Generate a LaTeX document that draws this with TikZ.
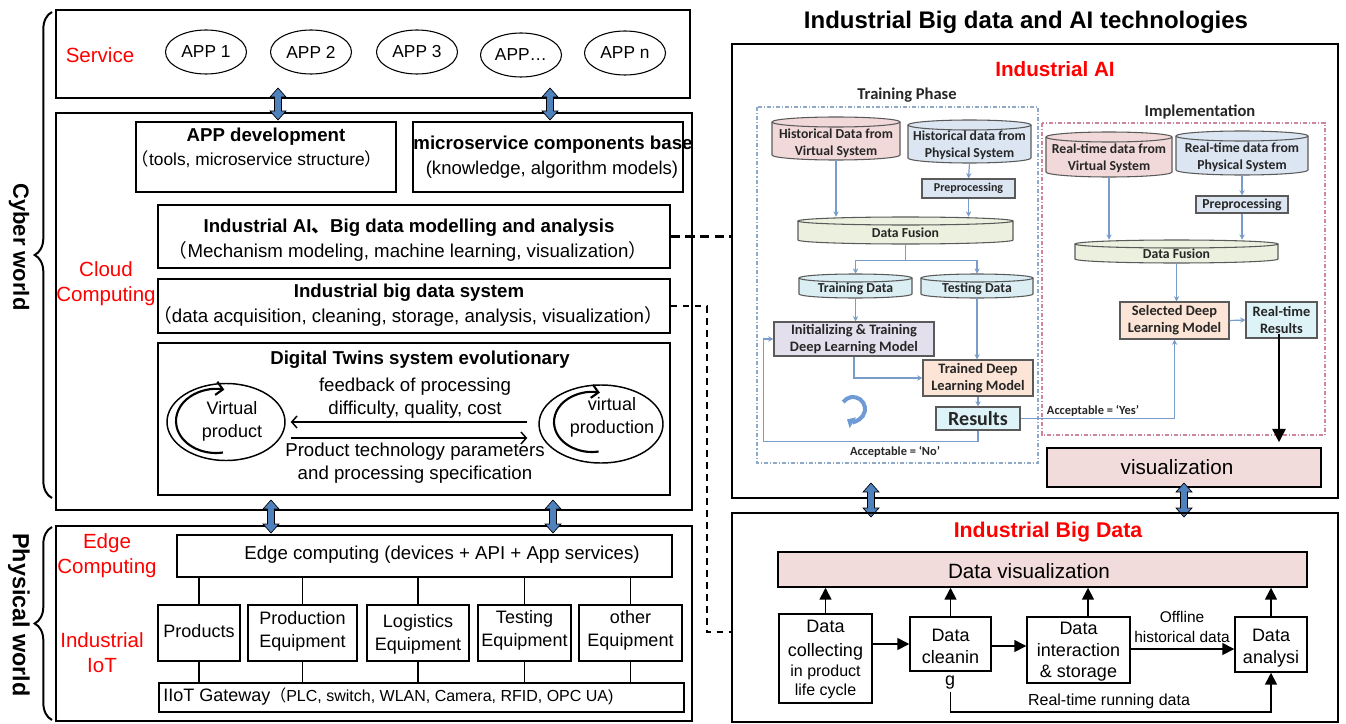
\documentclass[tikz,border=0pt]{standalone}
\usepackage{fontspec}
\setmainfont{Liberation Sans}
\newfontfamily\cjk{Noto Sans CJK SC}
\newfontfamily\carlito{Carlito}
\usetikzlibrary{arrows.meta,decorations.pathreplacing,fit,calc,shapes.geometric}
\newcommand\fs[2]{\fontsize{#1}{#2}\selectfont}
\definecolor{fatblue}{HTML}{4F81BD}
\definecolor{lnblue}{HTML}{7A9CCB}
\definecolor{cpink}{HTML}{F2D9D9}
\definecolor{cblue}{HTML}{DCE6F2}
\definecolor{cgreen}{HTML}{EBF1DE}
\definecolor{ccyan}{HTML}{DAEEF3}
\definecolor{clav}{HTML}{E4DFEC}
\definecolor{cpeach}{HTML}{FCE4D6}
\definecolor{cres}{HTML}{DDF3F8}
\definecolor{vispink}{HTML}{F2DCDB}
\definecolor{trainb}{HTML}{8FA9C9}
\definecolor{implr}{HTML}{D0859B}
\definecolor{edgegray}{HTML}{5A5A5A}
\definecolor{iconblue}{HTML}{6E9BD6}
\newcommand\fatarrow[3]{%
 \filldraw[fill=fatblue, draw=black, line width=0.5pt] (#1,#2) -- (#1+8,#2+9) -- (#1+3.5,#2+9) -- (#1+3.5,#3-9) -- (#1+8,#3-9) -- (#1,#3) -- (#1-8,#3-9) -- (#1-3.5,#3-9) -- (#1-3.5,#2+9) -- (#1-8,#2+9) -- cycle;}
\newcommand\drum[7]{%
 \fill[#7] (#2,#3) -- (#2,#5) .. controls (#2,#5+0.552*#6) and ({(#2+#4)/2-0.552*(#4-#2)/2},#5+#6) .. ({(#2+#4)/2},#5+#6) .. controls ({(#2+#4)/2+0.552*(#4-#2)/2},#5+#6) and (#4,#5+0.552*#6) .. (#4,#5) -- (#4,#3) -- cycle;
 \draw[edgegray, line width=0.8pt] (#2,#3) -- (#2,#5) .. controls (#2,#5+0.552*#6) and ({(#2+#4)/2-0.552*(#4-#2)/2},#5+#6) .. ({(#2+#4)/2},#5+#6) .. controls ({(#2+#4)/2+0.552*(#4-#2)/2},#5+#6) and (#4,#5+0.552*#6) .. (#4,#5) -- (#4,#3);
 \filldraw[fill=#7, draw=edgegray, line width=0.8pt] ({(#2+#4)/2},#3) ellipse [x radius={(#4-#2)/2}, y radius=#6];
 \node[fit={(#2,#3-#6) (#4,#5+#6)}, inner sep=0pt] (#1) {};}
\begin{document}
\begin{tikzpicture}[x=0.75pt,y=-0.75pt,
 box/.style={draw, line width=1.4pt, inner sep=0pt},
 ibox/.style={draw, line width=1.1pt, inner sep=0pt},
 redlbl/.style={text=red, inner sep=0pt, align=center, font=\fs{15.4}{18.75}},
 tt/.style={inner sep=0pt, align=center},
 ttl/.style={inner sep=0pt, align=center, font=\bfseries\fs{14}{17}},
 appell/.style={draw, ellipse, line width=0.8pt, minimum width=60.75pt, minimum height=33pt, inner sep=0pt, font=\fs{13}{15}},
 ai/.style={inner sep=0pt, align=center, font=\carlito\bfseries\fs{10.3}{12.75}, text=black!85},
 aibox/.style={draw=edgegray, line width=0.8pt, inner sep=0pt},
 bluarr/.style={draw=lnblue, line width=0.9pt, -{Stealth[length=4pt,width=4pt]}},
 bluln/.style={draw=lnblue, line width=0.9pt},
 blkarr/.style={line width=1.2pt, -{Triangle[length=9pt,width=9pt]}},
 oarr/.style={line width=1.1pt, -{Straight Barb[length=4pt,width=9pt]}},
 dev/.style={ibox},
 devt/.style={tt, font=\fs{13.5}{17.25}}
]
\useasboundingbox (0,0) rectangle (1346,724);

% ---------------- left: braces
\draw[line width=1.5pt, decorate, decoration={brace, amplitude=13pt}] (52,498) -- (52,12);
\draw[line width=1.5pt, decorate, decoration={brace, amplitude=13pt}] (52,720) -- (52,527);
\node[rotate=-90, inner sep=0pt, font=\bfseries\fs{16.5}{20}] (cyber) at (19,247) {Cyber world};
\node[rotate=-90, inner sep=0pt, font=\bfseries\fs{17.5}{20}] (phys) at (19,615) {Physical world};

% ---------------- service
\node[box, fit={(56,10) (690,98)}] (service) {};
\node[redlbl] (svc) at (100,55) {Service};
\node[appell] (app1) at (206,52) {APP 1};
\node[appell] (app2) at (311,52) {APP 2};
\node[appell] (app3) at (417,52) {APP 3};
\node[appell] (app4) at (521,55) {APP…};
\node[appell] (appn) at (625,53) {APP n};

% ---------------- cloud
\node[box, fit={(56,113) (692,510)}] (cloud) {};
\node[redlbl] (cc) at (106,284) {Cloud\\Computing};
\node[ibox, fit={(136,122) (396,192)}] (appdev) {};
\node[ttl] at (266,137) {APP development};
\node[tt, font=\fs{13}{15}] at (257,159) {{\cjk（}tools, microservice structure{\cjk）}};
\node[ibox, fit={(413,122) (683,192)}] (micro) {};
\node[ttl] at (553,145) {microservice components base};
\node[tt, font=\fs{13.9}{17}] at (552,170) {(knowledge, algorithm models)};
\node[ibox, fit={(158,205) (670,268)}] (aimod) {};
\node[ttl] at (409,228) {Industrial AI{\cjk 、}Big data modelling and analysis};
\node[tt, font=\fs{14}{17}] at (408,251) {{\cjk（}Mechanism modeling, machine learning, visualization{\cjk）}};
\node[ibox, fit={(158,279) (670,333)}] (bds) {};
\node[ttl] at (409,293) {Industrial big data system};
\node[tt, font=\fs{14}{17}] at (408,316) {{\cjk（}data acquisition, cleaning, storage, analysis, visualization{\cjk）}};
\node[ibox, fit={(158,343) (670,495)}] (dtw) {};
\node[ttl] at (420,360) {Digital Twins system evolutionary};
\node[draw, ellipse, line width=1.1pt, minimum width=88.5pt, minimum height=57.75pt, inner sep=0pt] (vp) at (226,422) {};
\node[draw, ellipse, line width=1.1pt, minimum width=93pt, minimum height=58.5pt, inner sep=0pt] (vpn) at (601,424) {};
\draw[line width=1.6pt, -{Straight Barb[length=5pt,width=10pt]}] (vp.center) ++(-10,-1) ++(80:40 and 32) arc[start angle=80, end angle=282, x radius=40, y radius=32];
\draw[line width=1.6pt, -{Straight Barb[length=5pt,width=10pt]}] (vpn.center) ++(-9,-2) ++(80:38 and 30) arc[start angle=80, end angle=282, x radius=38, y radius=30];
\node[tt, font=\fs{13.5}{17.25}] at (232,421.5) {Virtual\\product};
\node[tt, font=\fs{13.5}{17.25}] at (612,417.5) {virtual\\production};
\node[tt, font=\fs{14}{17.25}] (fb) at (415,398.5) {feedback of processing\\difficulty, quality, cost};
\node[tt, font=\fs{14}{17.25}] (ptp) at (415,463.5) {Product technology parameters\\and processing specification};
\draw[oarr] ($(vpn.west)+(-11,-2)$) -- ($(vp.east)+(5,0)$);
\draw[oarr] ($(vp.east)+(5,16)$) -- ($(vpn.west)+(-11,14)$);

% ---------------- physical
\node[box, fit={(56,526) (692,721)}] (physbox) {};
\node[redlbl] (ec) at (107,555.5) {Edge\\Computing};
\node[redlbl] (iiot) at (102,652.5) {Industrial\\IoT};
\node[ibox, fit={(177,535) (672,577)}] (edge) {};
\node[tt, font=\fs{14}{16}] at (442,555) {Edge computing (devices + API + App services)};
\node[dev, fit={(158,605) (240,661)}] (d1) {};
\node[dev, fit={(248,605) (357,661)}] (d2) {};
\node[dev, fit={(367,605) (469,661)}] (d3) {};
\node[dev, fit={(478,605) (571,661)}] (d4) {};
\node[dev, fit={(579,605) (682,661)}] (d5) {};
\node[devt] at (199,631) {Products};
\node[devt] at (302.5,631) {Production\\Equipment};
\node[devt] at (418,634) {Logistics\\Equipment};
\node[devt] at (524.5,630.5) {Testing\\Equipment};
\node[devt] at (630.5,630.5) {other\\Equipment};
\node[ibox, fit={(159,683) (684,712)}] (gw) {};
\node[inner sep=0pt, anchor=west] at (163,697) {\fs{13.5}{16}IIoT Gateway{\fs{12}{14}\cjk（}\fs{12}{14}PLC, switch, WLAN, Camera, RFID, OPC UA)};
\foreach \d in {d1,d2,d3,d4,d5}{
 \draw[line width=1.1pt] (\d.north) -- (\d.north |- edge.south);
 \draw[line width=1.1pt] (\d.south) -- (\d.south |- gw.north);
}

\fatarrow{278}{88}{120}
\fatarrow{550}{88}{120}
\fatarrow{271}{500}{533}
\fatarrow{553}{500}{533}

% ---------------- right: title and AI
\node[tt, font=\bfseries\fs{18}{20}] (title) at (1026,22) {Industrial Big data and AI technologies};
\node[box, fit={(732,44) (1338,498)}] (aiout) {};
\node[tt, text=red, font=\bfseries\fs{15.5}{17}] at (1055,69) {Industrial AI};
\node[ai, font=\carlito\bfseries\fs{12.4}{15}] at (907,95) {Training Phase};
\draw[trainb, line width=0.8pt, dash pattern=on 3pt off 1.5pt on 0.8pt off 1.5pt] (757,107) rectangle (1038,463);
\node[ai, font=\carlito\bfseries\fs{12.4}{15}] at (1200,112) {Implementation};
\draw[implr, line width=0.8pt, dash pattern=on 3pt off 1.5pt on 0.8pt off 1.5pt] (1042,123) rectangle (1325,435);

\drum{hv}{772}{122}{900}{155}{5}{cpink}
\node[ai] at (836,143.5) {Historical Data from\\Virtual System};
\drum{hp}{908}{125}{1031}{158}{5}{cblue}
\node[ai] at (969.5,145.5) {Historical data from\\Physical System};
\node[aibox, fill=cblue, fit={(922,179) (1015,198)}] (pre1) {};
\node[ai, font=\carlito\bfseries\fs{9}{11}] at (pre1) {Preprocessing};
\drum{df1}{798}{221}{1013}{240}{4}{cgreen}
\node[ai] at (905.5,233) {Data Fusion};
\drum{trd}{799}{278}{912}{294}{4}{ccyan}
\node[ai] at (855.5,289) {Training Data};
\drum{ted}{921}{278}{1033}{294}{4}{ccyan}
\node[ai] at (977,289) {Testing Data};
\node[aibox, fill=clav, fit={(774,322) (934,356)}] (init) {};
\node[ai, font=\carlito\bfseries\fs{10.8}{12.75}] at (init) {Initializing \& Training\\Deep Learning Model};
\node[aibox, fill=cpeach, fit={(923,360) (1033,396)}] (trained) {};
\node[ai, font=\carlito\bfseries\fs{10.8}{12.75}] at (trained) {Trained Deep\\Learning Model};
\node[aibox, fill=cres, fit={(936,407) (1020,430)}] (res) {};
\node[ai, font=\carlito\bfseries\fs{15}{15}] at (res) {Results};
\drum{rv}{1046}{137}{1172}{172}{5}{cpink}
\node[ai] at (1109,158) {Real-time data from\\Virtual System};
\drum{rp}{1176}{136}{1308}{170}{5}{cblue}
\node[ai] at (1242,157.5) {Real-time data from\\Physical System};
\node[aibox, fill=cblue, fit={(1196,196) (1288,213)}] (pre2) {};
\node[ai, font=\carlito\bfseries\fs{10.3}{12}] at (pre2) {Preprocessing};
\drum{df2}{1075}{244}{1278}{259}{4}{cgreen}
\node[ai] at (1176.5,254) {Data Fusion};
\node[aibox, fill=cpeach, fit={(1120,302) (1229,339)}] (sel) {};
\node[ai, font=\carlito\bfseries\fs{10.8}{12.75}] at (sel) {Selected Deep\\Learning Model};
\node[aibox, fill=cres, fit={(1246,302) (1317,338)}] (rtr) {};
\node[ai, font=\carlito\bfseries\fs{10.8}{12.75}] at (rtr) {Real-time\\Results};

\draw[bluarr] (hv.south) -- (hv.south |- df1.north);
\draw[bluarr] (hp.south) -- (pre1.north);
\draw[bluarr] (pre1.south) -- (pre1.south |- df1.north);
\coordinate (sp1) at ($(df1.south)+(0,16)$);
\draw[bluln] (df1.south) -- (sp1);
\draw[bluln] (sp1 -| trd.north) -- (sp1 -| ted.north);
\draw[bluarr] (sp1 -| trd.north) -- (trd.north);
\draw[bluarr] (sp1 -| ted.north) -- (ted.north);
\draw[bluarr] (trd.south) -- (trd.south |- init.north);
\draw[bluarr] (ted.south) -- (ted.south |- trained.north);
\draw[bluarr] (init.south) |- (trained.west);
\draw[bluarr] (trained.south) -- (trained.south |- res.north);
\draw[bluarr] (res.south) -- ++(0,11) -| ($(init.west)+(-10,0)$) -- (init.west);
\draw[bluarr] (res.east) -| (sel.south);
\node[ai, font=\carlito\bfseries\fs{9.3}{10}] at (1093,411) {Acceptable = ‘Yes’};
\node[ai, font=\carlito\bfseries\fs{9.3}{10}] at (895,452) {Acceptable = ‘No’};
\draw[bluarr] (rv.south) -- (rv.south |- df2.north);
\draw[bluarr] (rp.south) -- (pre2.north);
\draw[bluarr] (pre2.south) -- (pre2.south |- df2.north);
\draw[bluarr] (df2.south) -- (df2.south |- sel.north);
\draw[bluarr] (sel.east) -- (rtr.west);
\draw[iconblue, line width=3pt, -{Triangle[length=5pt,width=9pt]}] (853,409) ++(-145:12) arc[start angle=-145, end angle=120, radius=12];

\node[draw, line width=1.2pt, fill=vispink, fit={(1047,448) (1321,487)}, inner sep=0pt] (vis) {};
\node[tt, font=\fs{15.5}{18}] at (1177,467) {visualization};
\draw[line width=1.2pt, -{Triangle[length=10pt,width=10pt]}] ($(rtr.south)+(-2.5,-5)$) -- ($(rtr.south |- vis.north)+(-2.5,-5)$);

\fatarrow{871}{483}{517}
\fatarrow{1184}{483}{517}

% ---------------- big data
\node[box, fit={(732,513) (1338,722)}] (bd) {};
\node[tt, text=red, font=\bfseries\fs{16}{17}] at (1048,532) {Industrial Big Data};
\node[draw, line width=1.1pt, fill=vispink, fit={(778,552) (1307,587)}, inner sep=0pt] (dvis) {};
\node[tt, font=\fs{15.5}{18}] at (1029,571) {Data visualization};
\node[ibox, fit={(779,614) (872,703)}] (dcoll) {};
\node[tt, font=\fs{13.5}{18}] at (825.5,640) {Data\\collecting};
\node[tt, font=\fs{12}{14.25}] at (825.5,681.5) {in product\\life cycle};
\node[ibox, fit={(910,617) (991,671)}] (dclean) {};
\node[tt, font=\fs{13.5}{16.5}] at (950.5,646) {Data\\cleanin};
\node[tt, font=\fs{13.5}{16.5}] at (950,683) {g};
\node[ibox, fit={(1027,617) (1130,683)}] (dint) {};
\node[tt, font=\fs{13.5}{16.1}] at (1078.5,652) {Data\\interaction\\\& storage};
\node[ibox, fit={(1235,617) (1307,672)}] (danal) {};
\node[tt, font=\fs{13.5}{16.5}] at (1271,648) {Data\\analysi};
\draw[blkarr] (dcoll.north) -- (dcoll.north |- dvis.south);
\draw[blkarr] (dclean.north) -- (dclean.north |- dvis.south);
\draw[blkarr] ($(dint.north)+(9.5,0)$) -- ($(dint.north |- dvis.south)+(9.5,0)$);
\draw[blkarr] (danal.north) -- (danal.north |- dvis.south);
\draw[blkarr] ($(dcoll.east)+(0,-14.5)$) -- (dclean.west);
\draw[blkarr] ($(dclean.east)+(0,2)$) -- ($(dint.west)+(0,-4)$);
\draw[blkarr] ($(dint.east)+(0,-1)$) -- ($(danal.west)+(0,4.5)$);
\node[tt, font=\fs{11.6}{15}] at (1182,627) {Offline\\historical data};
\draw[blkarr] ($(dclean.south)+(0,20)$) -- ($(dclean.south)+(0,40)$) -| (danal.south);
\node[tt, font=\fs{12}{15}] at (1109,701) {Real-time running data};

% ---------------- dashed links
\draw[line width=1.6pt, dash pattern=on 7pt off 4pt] (aimod.east) -- (aimod.east -| aiout.west);
\coordinate (bdin) at (732,632);
\draw[line width=1.2pt, dash pattern=on 5pt off 4pt] (bds.east) -- ++(36,0) |- (bdin);
\end{tikzpicture}
\end{document}
